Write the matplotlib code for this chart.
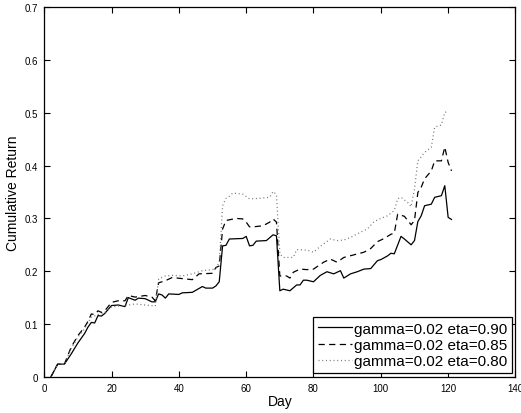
import matplotlib
matplotlib.use("Agg")
import matplotlib.pyplot as plt

plt.rcParams["font.family"] = ["Liberation Sans", "DejaVu Sans"]

# gamma=0.02 eta=0.90
days_90 = [2, 4, 6, 8, 10, 12, 13, 14, 15, 16, 17, 18, 20, 22, 24, 25, 27, 28,
           30, 32, 33, 34, 35, 36, 37, 40, 41, 44, 47, 48, 50, 51, 52, 53, 54,
           55, 59, 60, 61, 62, 63, 66, 68, 69, 70, 71, 73, 75, 76, 77, 78, 80,
           82, 84, 86, 88, 89, 91, 93, 95, 97, 99, 100, 102, 103, 104, 106,
           107, 109, 110, 111, 112, 113, 115, 116, 118, 119, 120, 121]
ret_90 = [0.0, 0.024, 0.024, 0.043, 0.064, 0.082, 0.094, 0.103, 0.102, 0.116,
          0.115, 0.120, 0.135, 0.136, 0.133, 0.150, 0.145, 0.149, 0.148, 0.142,
          0.142, 0.157, 0.155, 0.149, 0.157, 0.156, 0.159, 0.160, 0.171, 0.168,
          0.168, 0.172, 0.180, 0.248, 0.249, 0.261, 0.262, 0.266, 0.248, 0.249,
          0.257, 0.258, 0.269, 0.267, 0.163, 0.166, 0.163, 0.174, 0.174, 0.183,
          0.183, 0.180, 0.192, 0.199, 0.195, 0.201, 0.187, 0.195, 0.199, 0.204,
          0.205, 0.220, 0.222, 0.229, 0.234, 0.233, 0.266, 0.261, 0.250, 0.258,
          0.294, 0.305, 0.324, 0.327, 0.340, 0.343, 0.362, 0.302, 0.298]

# gamma=0.02 eta=0.85
days_85 = [2, 4, 6, 8, 10, 12, 13, 14, 15, 16, 17, 18, 20, 22, 24, 25, 27, 30,
           32, 33, 34, 36, 38, 41, 44, 46, 50, 51, 52, 53, 54, 57, 59, 60, 61,
           62, 65, 67, 68, 69, 70, 72, 73, 74, 76, 78, 80, 83, 85, 87, 89, 92,
           95, 97, 99, 101, 103, 104, 105, 107, 109, 110, 111, 112, 113, 115,
           116, 118, 119, 120, 121]
ret_85 = [0.0, 0.024, 0.024, 0.056, 0.078, 0.094, 0.105, 0.119, 0.118, 0.125,
          0.122, 0.125, 0.141, 0.144, 0.144, 0.154, 0.151, 0.154, 0.151, 0.144,
          0.178, 0.182, 0.188, 0.186, 0.184, 0.195, 0.196, 0.207, 0.210, 0.280,
          0.296, 0.300, 0.299, 0.293, 0.284, 0.284, 0.286, 0.293, 0.299, 0.293,
          0.191, 0.191, 0.187, 0.198, 0.204, 0.203, 0.204, 0.217, 0.223, 0.217,
          0.226, 0.231, 0.236, 0.243, 0.256, 0.262, 0.270, 0.272, 0.308, 0.304,
          0.288, 0.296, 0.349, 0.359, 0.375, 0.390, 0.409, 0.409, 0.435, 0.406,
          0.390]

# gamma=0.02 eta=0.80
days_80 = [2, 4, 6, 8, 10, 12, 14, 16, 17, 18, 20, 22, 24, 27, 30, 33, 34, 36,
           38, 41, 44, 47, 50, 51, 52, 53, 54, 55, 56, 59, 61, 64, 67, 68, 69,
           70, 71, 73, 74, 75, 78, 80, 82, 85, 87, 89, 91, 94, 96, 98, 100, 102,
           104, 105, 106, 108, 109, 110, 111, 113, 115, 116, 118, 119, 120]
ret_80 = [0.0, 0.024, 0.024, 0.053, 0.075, 0.091, 0.113, 0.118, 0.119, 0.122,
          0.132, 0.134, 0.135, 0.138, 0.136, 0.134, 0.185, 0.191, 0.192, 0.191,
          0.195, 0.201, 0.203, 0.205, 0.217, 0.324, 0.338, 0.342, 0.348, 0.346,
          0.337, 0.338, 0.340, 0.351, 0.345, 0.233, 0.226, 0.226, 0.226, 0.241,
          0.240, 0.236, 0.247, 0.261, 0.258, 0.259, 0.264, 0.274, 0.280, 0.294,
          0.300, 0.305, 0.315, 0.337, 0.340, 0.330, 0.322, 0.356, 0.409, 0.425,
          0.435, 0.473, 0.477, 0.501, 0.502]

fig = plt.figure(figsize=(5.21, 4.14), dpi=100)
ax = fig.add_axes([0.0848, 0.0874, 0.9046, 0.8928])

ax.plot(days_90, ret_90, color="black", linewidth=0.9, linestyle="-",
        label="gamma=0.02 eta=0.90")
ax.plot(days_85, ret_85, color="black", linewidth=0.9, dashes=(5, 3.5),
        label="gamma=0.02 eta=0.85")
ax.plot(days_80, ret_80, color="0.45", linewidth=0.9, dashes=(0.8, 2.2),
        label="gamma=0.02 eta=0.80")

ax.set_xlim(0, 140)
ax.set_ylim(0, 0.7)
ax.set_xticks(range(0, 141, 20))
ax.set_yticks([0, 0.1, 0.2, 0.3, 0.4, 0.5, 0.6, 0.7])
ax.set_yticklabels(["0", "0.1", "0.2", "0.3", "0.4", "0.5", "0.6", "0.7"])
ax.tick_params(direction="in", top=True, right=True, length=4, width=0.8,
               labelsize=7, pad=4.5)
for s in ax.spines.values():
    s.set_linewidth(0.9)

ax.set_xlabel("Day", fontsize=10, labelpad=1)
ax.set_ylabel("Cumulative Return", fontsize=10, labelpad=3)

leg = ax.legend(loc="lower right", fontsize=11, handlelength=2.2,
                handletextpad=0.15, borderpad=0.3, labelspacing=0.15,
                borderaxespad=0.25, fancybox=False, framealpha=1)
leg.get_frame().set_edgecolor("black")
leg.get_frame().set_linewidth(0.9)

fig.savefig("out.png", dpi=100)
